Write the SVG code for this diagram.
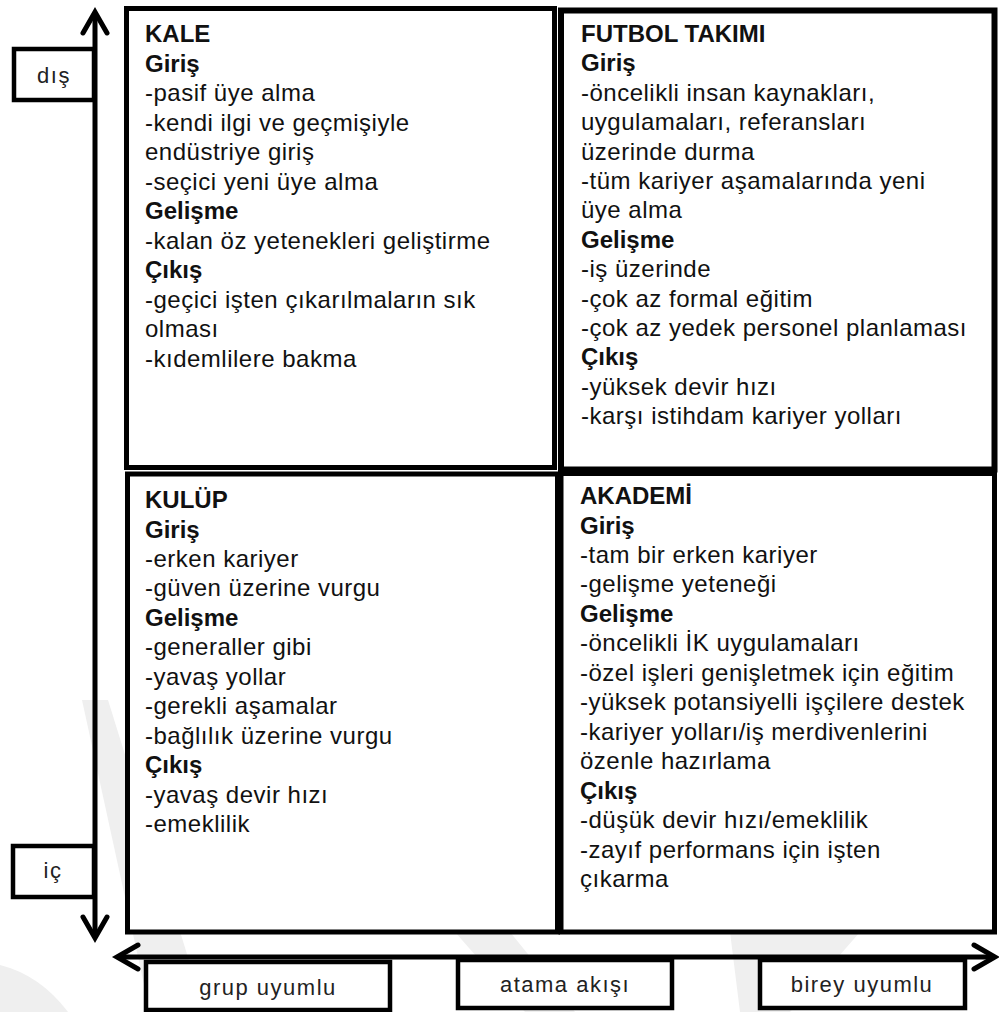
<svg xmlns="http://www.w3.org/2000/svg" width="999" height="1012" viewBox="0 0 999 1012">
<style>
.box{fill:#fff;stroke:#000;stroke-width:5}
.lbl{fill:#fff;stroke:#000;stroke-width:4.5}
.t{font-family:"Liberation Sans",Arial,sans-serif;font-size:24px;fill:#111;letter-spacing:0.5px}
.b{font-weight:bold;letter-spacing:0}
.s{font-family:"Liberation Sans",Arial,sans-serif;font-size:22px;fill:#222;letter-spacing:1.5px;text-anchor:middle}
.ax{fill:none;stroke:#000;stroke-width:5;marker-start:url(#chev);marker-end:url(#chev)}
.wm{fill:#efefef}
</style>
<defs>
<marker id="chev" viewBox="-26 -16 30 32" refX="0" refY="0" markerWidth="30" markerHeight="32" markerUnits="userSpaceOnUse" orient="auto-start-reverse" overflow="visible">
<path d="M-21,-12 L0,0 L-21,12" fill="none" stroke="#000" stroke-width="5" stroke-linecap="round" stroke-linejoin="miter"/>
</marker>
</defs>
<rect width="999" height="1012" fill="#fff"/>
<g id="watermark">
<path class="wm" d="M82,700 L108,700 L205,1012 L150,1012 Z"/>
<path class="wm" d="M0,965 Q40,975 68,1012 L0,1012 Z"/>
<path class="wm" d="M455,932 L510,932 L575,1012 L525,1012 Z"/>
<path class="wm" d="M730,932 L860,932 L790,1012 L740,1012 Z"/>
</g>
<g id="connectors">
<path class="ax" d="M95,12 L95,938"/>
<path class="ax" d="M117,957 L995,957"/>
</g>
<g id="q-kale">
<rect class="box" x="126.5" y="8.5" width="428" height="459"/>
<text class="t" x="145">
<tspan class="b" x="145" y="42">KALE</tspan>
<tspan class="b" x="145" y="71.5">Giriş</tspan>
<tspan x="145" y="101">-pasif üye alma</tspan>
<tspan x="145" y="130.5">-kendi ilgi ve geçmişiyle</tspan>
<tspan x="145" y="160">endüstriye giriş</tspan>
<tspan x="145" y="189.5">-seçici yeni üye alma</tspan>
<tspan class="b" x="145" y="219">Gelişme</tspan>
<tspan x="145" y="248.5">-kalan öz yetenekleri geliştirme</tspan>
<tspan class="b" x="145" y="278">Çıkış</tspan>
<tspan x="145" y="307.5">-geçici işten çıkarılmaların sık</tspan>
<tspan x="145" y="337">olması</tspan>
<tspan x="145" y="366.5">-kıdemlilere bakma</tspan>
</text>
</g>
<g id="q-futbol">
<rect class="box" x="561" y="10.5" width="433.5" height="459" style="stroke-width:6"/>
<text class="t" x="581">
<tspan class="b" x="581" y="42">FUTBOL TAKIMI</tspan>
<tspan class="b" x="581" y="71.4">Giriş</tspan>
<tspan x="581" y="100.8">-öncelikli insan kaynakları,</tspan>
<tspan x="581" y="130.2">uygulamaları, referansları</tspan>
<tspan x="581" y="159.6">üzerinde durma</tspan>
<tspan x="581" y="189">-tüm kariyer aşamalarında yeni</tspan>
<tspan x="581" y="218.4">üye alma</tspan>
<tspan class="b" x="581" y="247.8">Gelişme</tspan>
<tspan x="581" y="277.2">-iş üzerinde</tspan>
<tspan x="581" y="306.6">-çok az formal eğitim</tspan>
<tspan x="581" y="336">-çok az yedek personel planlaması</tspan>
<tspan class="b" x="581" y="365.4">Çıkış</tspan>
<tspan x="581" y="394.8">-yüksek devir hızı</tspan>
<tspan x="581" y="424.2">-karşı istihdam kariyer yolları</tspan>
</text>
</g>
<g id="q-kulup">
<rect class="box" x="127.5" y="474" width="430" height="458"/>
<text class="t" x="145">
<tspan class="b" x="145" y="508">KULÜP</tspan>
<tspan class="b" x="145" y="537.5">Giriş</tspan>
<tspan x="145" y="567">-erken kariyer</tspan>
<tspan x="145" y="596.4">-güven üzerine vurgu</tspan>
<tspan class="b" x="145" y="625.8">Gelişme</tspan>
<tspan x="145" y="655.2">-generaller gibi</tspan>
<tspan x="145" y="684.7">-yavaş yollar</tspan>
<tspan x="145" y="714.1">-gerekli aşamalar</tspan>
<tspan x="145" y="743.6">-bağlılık üzerine vurgu</tspan>
<tspan class="b" x="145" y="773">Çıkış</tspan>
<tspan x="145" y="802.5">-yavaş devir hızı</tspan>
<tspan x="145" y="832">-emeklilik</tspan>
</text>
</g>
<g id="q-akademi">
<rect class="box" x="561" y="473.5" width="433.5" height="458.5"/>
<text class="t" x="580">
<tspan class="b" x="580" y="504">AKADEMİ</tspan>
<tspan class="b" x="580" y="533.5">Giriş</tspan>
<tspan x="580" y="562.9">-tam bir erken kariyer</tspan>
<tspan x="580" y="592.4">-gelişme yeteneği</tspan>
<tspan class="b" x="580" y="621.8">Gelişme</tspan>
<tspan x="580" y="651.3">-öncelikli İK uygulamaları</tspan>
<tspan x="580" y="680.8">-özel işleri genişletmek için eğitim</tspan>
<tspan x="580" y="710.2">-yüksek potansiyelli işçilere destek</tspan>
<tspan x="580" y="739.7">-kariyer yolları/iş merdivenlerini</tspan>
<tspan x="580" y="769.1">özenle hazırlama</tspan>
<tspan class="b" x="580" y="798.6">Çıkış</tspan>
<tspan x="580" y="828">-düşük devir hızı/emeklilik</tspan>
<tspan x="580" y="857.5">-zayıf performans için işten</tspan>
<tspan x="580" y="887">çıkarma</tspan>
</text>
</g>
<g id="lbl-dis">
<rect class="lbl" x="14" y="49" width="80" height="51"/>
<text class="s" x="54" y="83">dış</text>
</g>
<g id="lbl-ic">
<rect class="lbl" x="13" y="846" width="81" height="51"/>
<text class="s" x="53" y="878">iç</text>
</g>
<g id="lbl-grup">
<rect class="lbl" x="146" y="962" width="244" height="48"/>
<text class="s" x="268" y="995">grup uyumlu</text>
</g>
<g id="lbl-atama">
<rect class="lbl" x="458" y="960" width="214" height="48"/>
<text class="s" x="565" y="992">atama akışı</text>
</g>
<g id="lbl-birey">
<rect class="lbl" x="760" y="960" width="205" height="48"/>
<text class="s" x="862" y="992">birey uyumlu</text>
</g>
</svg>
